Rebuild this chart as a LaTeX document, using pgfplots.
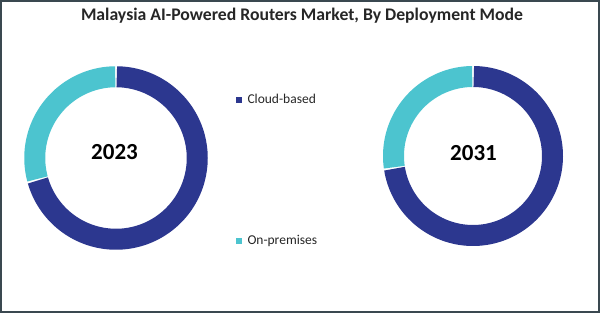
\documentclass[border=0pt]{standalone}
\usepackage{pgfplots}
\usepackage{pgfplotstable}
\pgfplotsset{compat=1.18}
\usepackage{fontspec}
\setmainfont{Carlito}
\definecolor{navy}{RGB}{44,55,143}
\definecolor{teal}{RGB}{76,196,207}
\definecolor{frame}{RGB}{58,72,80}

% shares in percent; donut centre and radii in picture units (1 unit = 1pt)
\pgfplotstableread{
year cloud onprem cx cy rout rin
2023 70.7 29.3 116 155 92 70.5
2031 72.6 27.4 473 157 90 69
}\donuts

\newcommand{\getrow}[1]{%
  \pgfplotstablegetelem{#1}{cloud}\of\donuts \edef\Cloud{\pgfplotsretval}%
  \pgfplotstablegetelem{#1}{cx}\of\donuts \edef\Cx{\pgfplotsretval}%
  \pgfplotstablegetelem{#1}{cy}\of\donuts \edef\Cy{\pgfplotsretval}%
  \pgfplotstablegetelem{#1}{rout}\of\donuts \edef\Rout{\pgfplotsretval}%
  \pgfplotstablegetelem{#1}{rin}\of\donuts \edef\Rin{\pgfplotsretval}%
  \pgfmathsetmacro\Rmid{(\Rout+\Rin)/2}%
  \pgfmathsetmacro\Wid{\Rout-\Rin}%
  \pgfmathsetmacro\Split{90-3.6*\Cloud}%
}

\begin{document}
\begin{tikzpicture}
\begin{axis}[
  width=600pt, height=313pt, scale only axis,
  xmin=0, xmax=600, ymin=0, ymax=313,
  hide axis, clip=false,
]
% ---- 2023 donut
\getrow{0}
\addplot[draw=navy, line width=\Wid pt, line cap=butt, domain={90-0.55}:{\Split+0.55}, samples=120]
  ({\Cx+\Rmid*cos(x)},{\Cy+\Rmid*sin(x)});
\addplot[draw=teal, line width=\Wid pt, line cap=butt, domain={\Split-0.55}:{-270+0.55}, samples=80]
  ({\Cx+\Rmid*cos(x)},{\Cy+\Rmid*sin(x)});
% ---- 2031 donut
\getrow{1}
\addplot[draw=navy, line width=\Wid pt, line cap=butt, domain={90-0.55}:{\Split+0.55}, samples=120]
  ({\Cx+\Rmid*cos(x)},{\Cy+\Rmid*sin(x)});
\addplot[draw=teal, line width=\Wid pt, line cap=butt, domain={\Split-0.55}:{-270+0.55}, samples=80]
  ({\Cx+\Rmid*cos(x)},{\Cy+\Rmid*sin(x)});
% ---- legend markers
\addplot[only marks, mark=square*, mark size=2.1pt, navy] coordinates {(238.7,213.3)};
\addplot[only marks, mark=square*, mark size=2.1pt, teal] coordinates {(238.7,72.3)};
% ---- texts
\node[anchor=base, font=\bfseries\fontsize{17.7}{21}\selectfont, text=black!85] at (302,292.3) {Malaysia AI-Powered Routers Market, By Deployment Mode};
\node[anchor=base, font=\bfseries\fontsize{23}{27}\selectfont] at (114.5,153) {2023};
\node[anchor=base, font=\bfseries\fontsize{23}{27}\selectfont] at (473.5,152) {2031};
\node[anchor=base west, inner sep=0pt, font=\fontsize{13.5}{16}\selectfont, text=black!85] at (247.3,209.7) {Cloud-based};
\node[anchor=base west, inner sep=0pt, font=\fontsize{13.5}{16}\selectfont, text=black!85] at (247.3,68.7) {On-premises};
% ---- frame
\draw[frame, line width=1.6pt] (0.8,0.8) rectangle (599.2,312.2);
\end{axis}
\end{tikzpicture}
\end{document}
